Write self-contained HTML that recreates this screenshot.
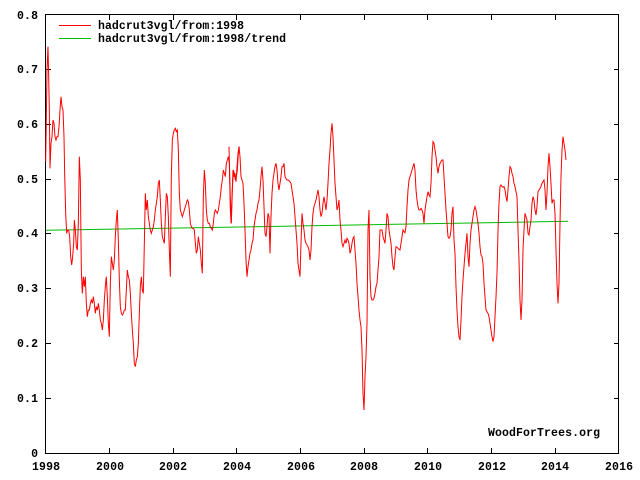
<!DOCTYPE html>
<html><head><meta charset="utf-8"><style>
html,body{margin:0;padding:0;background:#fff;}
svg{display:block;}
text{font-family:"Liberation Mono",monospace;font-size:11.5px;font-weight:bold;fill:#000;}
</style></head><body>
<svg width="640" height="480" viewBox="0 0 640 480" xmlns="http://www.w3.org/2000/svg">
<rect x="0" y="0" width="640" height="480" fill="#fff"/>
<rect x="45.5" y="14.5" width="573" height="439" fill="none" stroke="#000" stroke-width="1"/>
<g stroke="#000" stroke-width="1">
<path d="M46 398.5h5M46 343.5h5M46 288.5h5M46 233.5h5M46 179.5h5M46 124.5h5M46 69.5h5M614 398.5h5M614 343.5h5M614 288.5h5M614 233.5h5M614 179.5h5M614 124.5h5M614 69.5h5"/>
<path d="M109.5 453v-5M173.5 453v-5M236.5 453v-5M300.5 453v-5M364.5 453v-5M427.5 453v-5M491.5 453v-5M555.5 453v-5M109.5 15v5M173.5 15v5M236.5 15v5M300.5 15v5M364.5 15v5M427.5 15v5M491.5 15v5M555.5 15v5"/>
</g>
<g text-anchor="end">
<text x="38" y="457">0</text><text x="38" y="402" textLength="21">0.1</text><text x="38" y="347" textLength="21">0.2</text><text x="38" y="292" textLength="21">0.3</text><text x="38" y="237" textLength="21">0.4</text><text x="38" y="183" textLength="21">0.5</text><text x="38" y="128" textLength="21">0.6</text><text x="38" y="73" textLength="21">0.7</text><text x="38" y="19" textLength="21">0.8</text>
</g>
<g text-anchor="middle">
<text x="46" y="470" textLength="28">1998</text><text x="110" y="470" textLength="28">2000</text><text x="173" y="470" textLength="28">2002</text><text x="237" y="470" textLength="28">2004</text><text x="301" y="470" textLength="28">2006</text><text x="364" y="470" textLength="28">2008</text><text x="428" y="470" textLength="28">2010</text><text x="492" y="470" textLength="28">2012</text><text x="555" y="470" textLength="28">2014</text><text x="619" y="470" textLength="28">2016</text>
</g>
<text x="488" y="436" textLength="112">WoodForTrees.org</text>
<line x1="59" y1="25.5" x2="91" y2="25.5" stroke="#f00"/>
<line x1="59" y1="38.5" x2="91" y2="38.5" stroke="#0b0"/>
<text x="98" y="29" textLength="146">hadcrut3vgl/from:1998</text>
<text x="98" y="42" textLength="188">hadcrut3vgl/from:1998/trend</text>
<line x1="46" y1="230.3" x2="568" y2="221.3" stroke="#0b0" stroke-width="1"/>
<g fill="none" stroke="#f00" stroke-width="3" transform="translate(40,10) scale(0.3333333)">
<polyline points="17,455 19,320 21,180 24,110 26,200 28,300 30,475 33,400 36,380 39,330 42,340 45,380 48,390 51,380 54,380 57,350 60,300 63,260 66,290 69,300 72,380 74,490 77,610 80,670 83,660 86,660 89,680 92,740 95,765 98,740 101,700 103,630 106,660 109,710 112,720 115,640 118,440 121,510 124,780 127,850 130,800 133,830 136,800 139,880 142,920 145,900 148,900 151,880 154,870 157,880 160,860 163,880 166,910 169,890 172,900 175,880 178,900 181,930 184,940 187,960 190,930 193,870 196,830 199,800 202,860 205,940 208,980 211,820 214,740 217,760 220,780 223,750 226,680 229,630 232,600 235,690 238,810 241,890 244,910 247,915 250,910 253,900 256,900 259,840 262,780 265,800 268,810 271,850 274,910 277,960 280,1000 283,1060 286,1070 289,1050 292,1040 295,1000 298,910 301,830 304,800 307,840 310,850 313,700 316,550 319,600 322,570 325,620 328,640 331,660 334,670 337,660 340,650 343,630 346,600 349,580 352,560 355,520 358,510 361,570 364,640 367,680 370,690 373,700 376,620 379,550 382,560 385,620 388,720 391,800 394,500 397,390 400,370 403,360 406,355 409,365 412,360 415,420 418,550 421,600 424,610 427,620 430,610 433,600 436,590 439,580 442,570 445,575 448,600 451,640 454,650 457,655 460,655 463,660 466,700 469,730 472,720 475,680 478,700 481,720 484,760 487,790 490,560 493,480 496,520 499,600 502,630 505,640 508,640 511,650 514,655 517,660 520,640 523,610 526,600 529,605 532,610 535,600 538,580 541,560 544,530 547,510 550,480 553,490 556,500 559,460 562,450 565,440 568,460 571,600 574,640 577,540 580,480 583,490 586,510 589,500 592,480 595,430 598,410"/>
<polyline transform="translate(570,0)" points="-3,410 0,530 3,640 6,560 9,480 12,500 15,490 18,515 21,470 24,430 27,410 30,440 33,500 36,510 39,520 42,580 45,660 48,750 51,800 54,770 57,750 60,730 63,720 66,700 69,690 72,650 75,630 78,610 81,600 84,580 87,570 90,540 93,500 96,470 99,510 102,590 105,670 108,680 111,650 114,610 117,620 120,730 123,620 126,550 129,510 132,490 135,470 138,460 141,480 144,520 147,540 150,520 153,500 156,470 159,470 162,460 165,500 168,505 171,510 174,510 177,512 180,515 183,520 186,540 189,560 192,580 195,620 198,660 201,700 204,760 207,780 210,800 213,700 216,610 219,640 222,660 225,690 228,700 231,705 234,710 237,720 240,750 243,720 246,650 249,610 252,590 255,580 258,570 261,555 264,540 267,560 270,600 273,620 276,610 279,580 282,560 285,580 288,600 291,570 294,520 297,460 300,420 303,370 306,340 309,380 312,450 315,520 318,560 321,600 324,590 327,570 330,630 333,660 336,700 339,710 342,700 345,690 348,700 351,685 354,690 357,700 360,730 363,720 366,700 369,685 372,680 375,720 378,760 381,820 384,860 387,900 390,930 393,950 396,1020 399,1150 402,1200 405,1100 408,1040 411,940 414,660 417,600 420,800 423,860 426,870 429,870 432,865 435,850 438,830 441,820 444,780 447,740 450,660 453,660 456,660 459,680 462,690 465,700 468,660 471,610 474,620 477,660 480,680 483,700 486,740 489,770 492,780 495,740 498,710 501,712 504,715 507,718 510,720 513,700 516,680 519,660 522,665 525,668 528,650 531,590 534,540 537,510 540,500 543,490 546,480 549,470 552,460 555,480 558,540 561,570 564,590 567,600 570,600"/>
<polyline transform="translate(1140,0)" points="0,600 3,595 6,600 9,610 12,640 15,600 18,580 21,560 24,545 27,555 30,560 33,520 36,440 39,395 42,400 45,420 48,440 51,470 54,490 57,470 60,460 63,455 66,450 69,450 72,500 75,550 78,600 81,640 84,680 87,685 90,680 93,660 96,610 99,590 102,690 105,730 108,830 111,900 114,950 117,980 120,990 123,930 126,860 129,810 132,770 135,730 138,700 141,670 144,740 147,770 150,700 153,660 156,640 159,620 162,600 165,590 168,600 171,620 174,640 177,670 180,710 183,735 186,740 189,760 192,820 195,860 198,900 201,905 204,910 207,920 210,940 213,960 216,980 219,995 222,980 225,920 228,860 231,790 234,660 237,580 240,530 243,525 246,530 249,532 252,530 255,540 258,560 261,575 264,540 267,500 270,470 273,475 276,490 279,500 282,520 285,530 288,545 291,560 294,660 297,750 300,870 303,930 306,870 309,720 312,660 315,610 318,620 321,630 324,670 327,675 330,650 333,630 336,580 339,560 342,570 345,600 348,615 351,590 354,545 357,540 360,535 363,530 366,520 369,515 372,510 375,540 378,600 381,550 384,470 387,430 390,470 393,520 396,580 399,570 402,570 405,610 408,720 411,820 414,880 417,820 420,640 423,500 426,420 429,380 432,400 435,420 438,450"/>
</g>
</svg>
</body></html>
